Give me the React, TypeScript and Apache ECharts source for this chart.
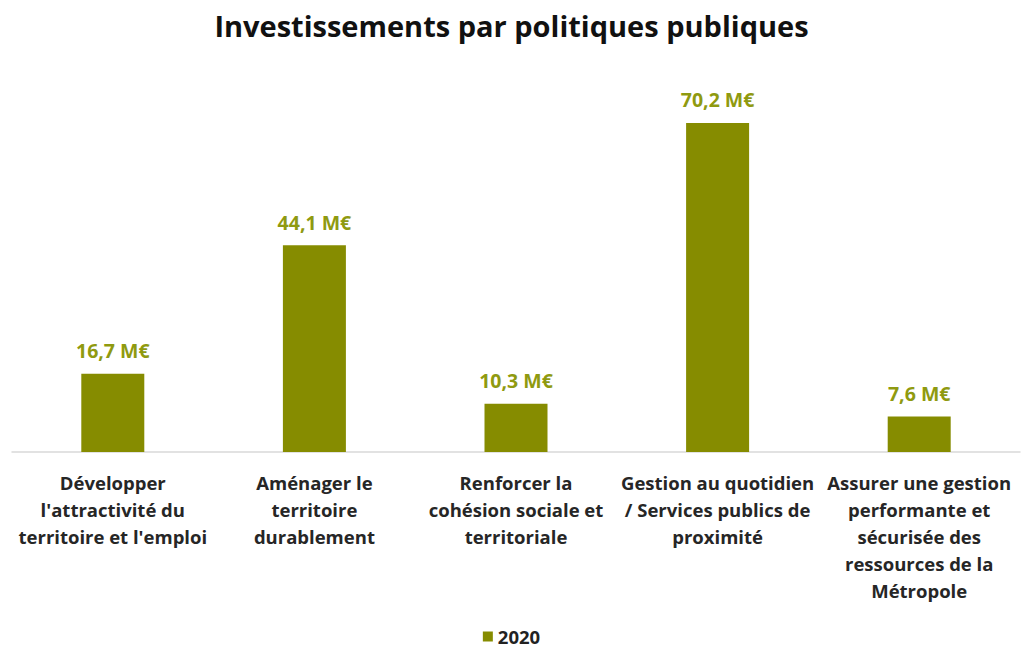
import React, { useEffect, useRef } from "react";
import * as echarts from "echarts";

const categories = [
  "Développer\nl'attractivité du\nterritoire et l'emploi",
  "Aménager le\nterritoire\ndurablement",
  "Renforcer la\ncohésion sociale et\nterritoriale",
  "Gestion au quotidien\n/ Services publics de\nproximité",
  "Assurer une gestion\nperformante et\nsécurisée des\nressources de la\nMétropole",
];
const values2020 = [16.7, 44.1, 10.3, 70.2, 7.6];
const seriesName = "2020";
const titleText = "Investissements par politiques publiques";

const FONT = "'Open Sans', Lato, sans-serif";

export default function App() {
  const ref = useRef<HTMLDivElement>(null);
  useEffect(() => {
    if (!ref.current) return;
    const chart = echarts.init(ref.current, null, { renderer: "svg" });
    chart.setOption({
      animation: false,
      backgroundColor: "#ffffff",
      title: {
        text: titleText,
        left: "center",
        top: 6,
        textStyle: { fontFamily: FONT, fontSize: 29, fontWeight: "bold", color: "#111111" },
      },
      legend: {
        bottom: 0,
        left: "center",
        icon: "rect",
        itemWidth: 10,
        itemHeight: 10,
        itemGap: 6,
        textStyle: { fontFamily: FONT, fontSize: 18.5, fontWeight: "bold", color: "#222222" },
        data: [seriesName],
      },
      grid: { left: 12, right: 3, top: 77, bottom: 199, containLabel: false },
      xAxis: {
        type: "category",
        data: categories,
        axisLine: { show: true, lineStyle: { color: "#d9d9d9", width: 1.5 } },
        axisTick: { show: false },
        axisLabel: {
          interval: 0,
          margin: 17,
          fontFamily: FONT,
          fontSize: 18.5,
          fontWeight: "bold",
          color: "#262626",
          lineHeight: 27,
        },
      },
      yAxis: {
        type: "value",
        min: 0,
        max: 80,
        show: false,
        splitLine: { show: false },
      },
      series: [
        {
          name: seriesName,
          type: "bar",
          data: values2020,
          barWidth: 63,
          itemStyle: { color: "#868c00" },
          label: {
            show: true,
            position: "top",
            distance: 13,
            fontFamily: FONT,
            fontSize: 19.5,
            fontWeight: "bold",
            color: "#8f9a10",
            formatter: (p: any) => String(p.value).replace(".", ",") + " M€",
          },
        },
      ],
    });
    return () => chart.dispose();
  }, []);
  return <div ref={ref} style={{ width: 1023, height: 651, position: "absolute", left: 0, top: 0 }} />;
}
